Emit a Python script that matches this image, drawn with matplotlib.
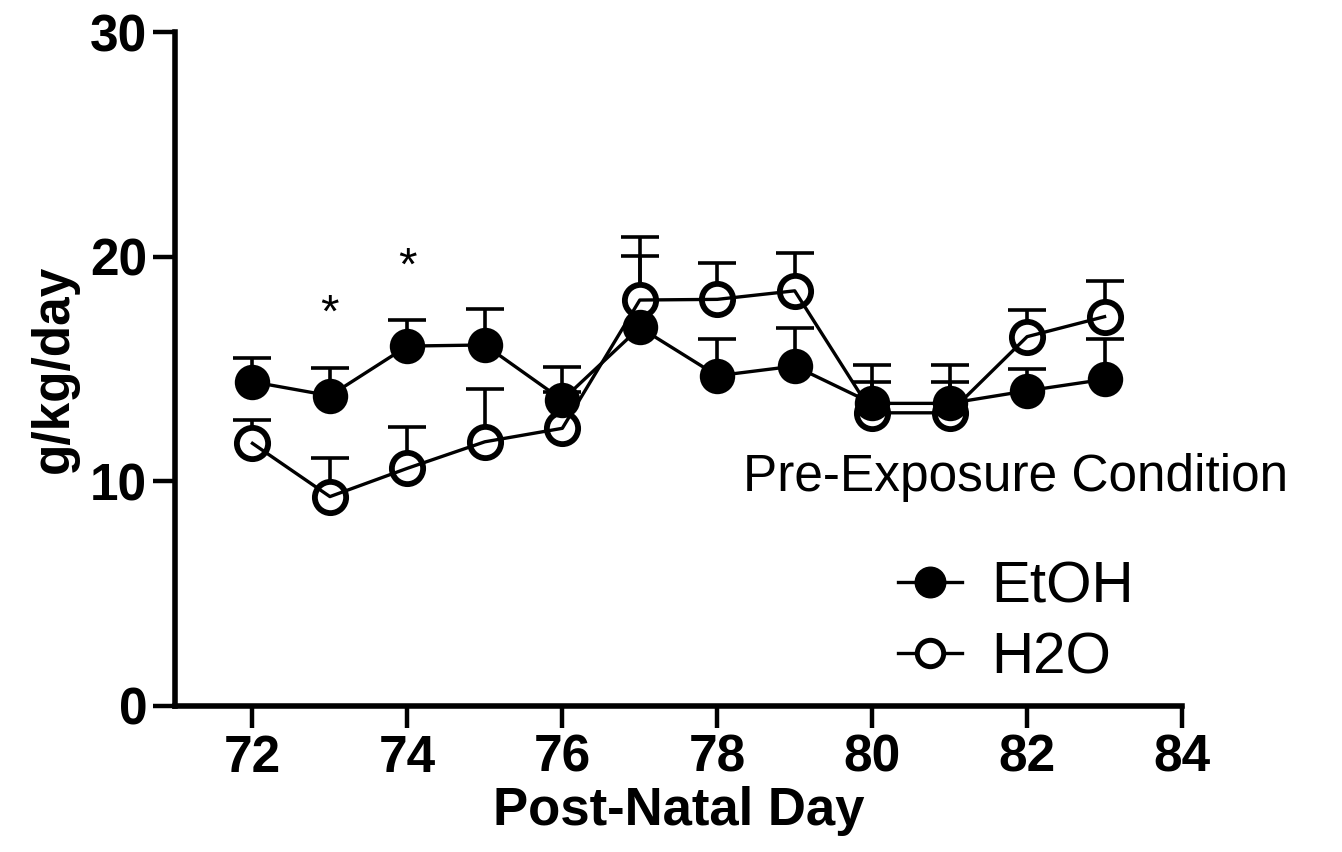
import numpy as np
import matplotlib
matplotlib.use("Agg")
import matplotlib.pyplot as plt
from matplotlib.lines import Line2D

plt.rcParams['font.family'] = ['Liberation Sans', 'DejaVu Sans']

days = [72, 73, 74, 75, 76, 77, 78, 79, 80, 81, 82, 83]
etoh_mean = [14.43, 13.81, 16.02, 16.07, 13.62, 16.85, 14.70, 15.13, 13.47, 13.47, 14.03, 14.54]
etoh_sem = [1.04, 1.22, 1.16, 1.60, 1.48, 3.19, 1.63, 1.68, 0.93, 0.93, 0.95, 1.79]
h2o_mean = [11.69, 9.32, 10.58, 11.76, 12.36, 18.07, 18.10, 18.48, 13.05, 13.05, 16.44, 17.33]
h2o_sem = [1.04, 1.70, 1.85, 2.33, 1.60, 2.82, 1.60, 1.67, 2.15, 2.15, 1.18, 1.58]
star_days = [73, 74]
star_y = [17.4, 19.5]
xticks = [72, 74, 76, 78, 80, 82, 84]
yticks = [0, 10, 20, 30]

x = np.array(days)
em, es = np.array(etoh_mean), np.array(etoh_sem)
hm, hs = np.array(h2o_mean), np.array(h2o_sem)

fig = plt.figure(figsize=(13.42, 8.52), dpi=100)
ax = fig.add_axes([0.1304, 0.1714, 0.7504, 0.791])

# upper-only error bars: stems + caps
for m, s in ((em, es), (hm, hs)):
    ax.vlines(x, m, m + s, color='black', lw=2.6, zorder=1)
    ax.plot(x, m + s, ls='none', marker='_', ms=27, mew=2.6, color='black', zorder=1)

ax.plot(x, hm, ls='none', marker='o', ms=22.5, mfc='white', mec='black', mew=4.2, zorder=2)
ax.plot(x, em, ls='none', marker='o', ms=25.5, mfc='black', mec='black', mew=0, zorder=3)
ax.plot(x, hm, color='black', lw=2.4, zorder=4)
ax.plot(x, em, color='black', lw=2.4, zorder=4)

for d, yv in zip(star_days, star_y):
    ax.text(d, yv, '*', ha='center', va='center', fontsize=34)

ax.set_xlim(71, 84)
ax.set_ylim(0, 30)
ax.set_xticks(xticks)
ax.set_yticks(yticks)
for sp in ('top', 'right'):
    ax.spines[sp].set_visible(False)
for sp in ('left', 'bottom'):
    ax.spines[sp].set_linewidth(4)
ax.tick_params(axis='both', length=16, width=3.2, pad=4)
for lab in ax.get_xticklabels():
    lab.set_fontsize(37)
    lab.set_fontweight('bold')
for lab in ax.get_yticklabels():
    lab.set_fontsize(37)
    lab.set_fontweight('bold')
ax.set_xlabel('Post-Natal Day', fontsize=38, fontweight='bold', labelpad=2)
ax.set_ylabel('g/kg/day', fontsize=37, fontweight='bold', labelpad=8)

handles = [
    Line2D([], [], color='black', lw=2.4, marker='o', ms=22, mfc='black', mec='black'),
    Line2D([], [], color='black', lw=2.4, marker='o', ms=19, mfc='white', mec='black', mew=3.6),
]
leg = fig.legend(handles, ['EtOH', 'H2O'], title='Pre-Exposure Condition',
                 loc='center', bbox_to_anchor=(0.757, 0.332), frameon=False,
                 fontsize=42, title_fontsize=37, handlelength=1.1,
                 handletextpad=0.5, labelspacing=0.3)
leg._legend_box.sep = 42

fig.savefig('out.png', dpi=100)
